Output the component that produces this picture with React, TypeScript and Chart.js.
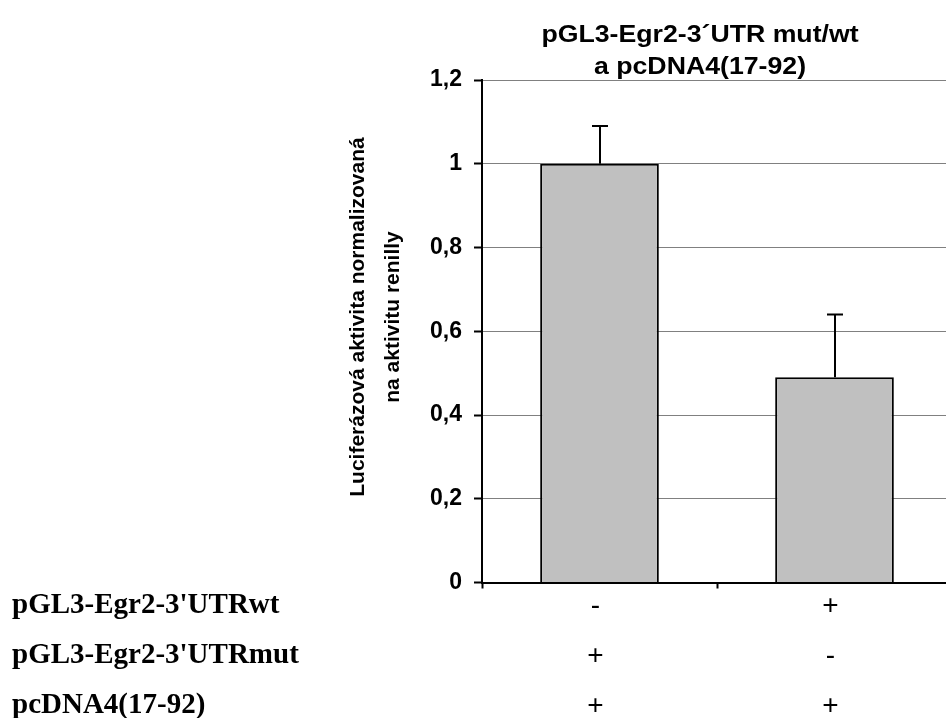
import React, { useEffect, useRef } from 'react';
import { Chart, registerables } from 'chart.js';

Chart.register(...registerables);

// ---- data ----
const rowLabels = ["pGL3-Egr2-3'UTRwt", "pGL3-Egr2-3'UTRmut", 'pcDNA4(17-92)'];
const wtRow = ['-', '+'];
const mutRow = ['+', '-'];
const pcdnaRow = ['+', '+'];
const values = [1.0, 0.49];
const errors = [0.09, 0.15];
const yTicks = [0, 0.2, 0.4, 0.6, 0.8, 1, 1.2];
const yTickLabels = ['0', '0,2', '0,4', '0,6', '0,8', '1', '1,2'];
const titleLines = ['pGL3-Egr2-3´UTR mut/wt', 'a pcDNA4(17-92)'];
const yTitleLines = ['Luciferázová aktivita normalizovaná', 'na aktivitu renilly'];

const SANS = '"Liberation Sans", Arial, Helvetica, sans-serif';
const SERIF = '"Liberation Serif", "Times New Roman", serif';

const decor = {
  id: 'decor',
  afterDatasetsDraw(chart: any) {
    const ctx = chart.ctx;
    const ys = chart.scales.y;
    const meta = chart.getDatasetMeta(0);
    ctx.save();
    ctx.strokeStyle = '#000';
    ctx.lineWidth = 2;
    meta.data.forEach((el: any, i: number) => {
      const top = ys.getPixelForValue(values[i] + errors[i]);
      const x = Math.round(el.x);
      ctx.beginPath();
      ctx.moveTo(x, el.y);
      ctx.lineTo(x, top);
      ctx.moveTo(x - 8, top);
      ctx.lineTo(x + 8, top);
      ctx.stroke();
    });
    ctx.restore();
  },
  afterDraw(chart: any) {
    const ctx = chart.ctx;
    const area = chart.chartArea;
    ctx.save();
    ctx.fillStyle = '#000';
    // main title (horizontally stretched like the original)
    ctx.font = `bold 23px ${SANS}`;
    ctx.textAlign = 'center';
    ctx.textBaseline = 'alphabetic';
    titleLines.forEach((t, i) => {
      ctx.save();
      ctx.translate(692, 34 + i * 32);
      ctx.scale(1.16, 1);
      ctx.fillText(t, 0, 0);
      ctx.restore();
    });
    // y axis title
    ctx.font = `bold 21px ${SANS}`;
    ctx.textBaseline = 'middle';
    yTitleLines.forEach((t, i) => {
      ctx.save();
      ctx.translate(350 + i * 35, 309);
      ctx.rotate(-Math.PI / 2);
      ctx.fillText(t, 0, 0);
      ctx.restore();
    });
    // row labels
    ctx.font = `bold 29px ${SERIF}`;
    ctx.textAlign = 'left';
    ctx.textBaseline = 'alphabetic';
    rowLabels.forEach((t, i) => {
      ctx.fillText(t, 4, area.bottom + 30 + i * 50);
    });
    ctx.restore();
  },
};

export default function App() {
  const ref = useRef<HTMLCanvasElement | null>(null);

  useEffect(() => {
    document.documentElement.style.overflow = 'hidden';
    document.body.style.marginRight = '0px';
    const canvas = ref.current;
    if (!canvas) return;
    const labels = values.map((_, i) => [wtRow[i], mutRow[i], pcdnaRow[i]]);
    const chart = new Chart(canvas, {
      type: 'bar',
      data: {
        labels,
        datasets: [
          {
            data: values,
            backgroundColor: '#C0C0C0',
            borderColor: '#000000',
            borderWidth: 2,
            categoryPercentage: 1,
            barPercentage: 0.505,
          },
        ],
      },
      options: {
        responsive: false,
        animation: false,
        devicePixelRatio: 1,
        layout: { padding: { top: 72, right: 2, left: 0, bottom: 0 } },
        plugins: {
          legend: { display: false },
          tooltip: { enabled: false },
          title: { display: false },
        },
        scales: {
          x: {
            type: 'category',
            offset: true,
            afterFit: (scale: any) => {
              scale.height = 135.5;
            },
            grid: {
              display: true,
              drawOnChartArea: false,
              drawTicks: true,
              tickLength: 6,
              tickColor: '#000',
              tickWidth: 2,
              offset: true,
            },
            border: { display: true, color: '#000', width: 2 },
            ticks: {
              color: '#000',
              font: { family: SANS, size: 28, lineHeight: '50px' as any },
              padding: -7,
              labelOffset: -4,
              maxRotation: 0,
              autoSkip: false,
            },
          },
          y: {
            min: 0,
            max: 1.2,
            afterFit: (scale: any) => {
              scale.width = 474;
            },
            afterBuildTicks: (scale: any) => {
              scale.ticks = yTicks.map((v) => ({ value: v }));
            },
            grid: {
              color: '#808080',
              lineWidth: 1,
              drawTicks: true,
              tickLength: 8,
              tickColor: '#000',
              tickWidth: 2,
            },
            border: { display: true, color: '#000', width: 2 },
            ticks: {
              color: '#000',
              padding: 12,
              font: { family: SANS, size: 23, weight: 'bold' },
              callback: (v: any) => {
                const i = yTicks.findIndex((t) => Math.abs(t - Number(v)) < 1e-6);
                return i >= 0 ? yTickLabels[i] : '';
              },
            },
          },
        },
      },
      plugins: [decor],
    } as any);
    return () => chart.destroy();
  }, []);

  return (
    <div style={{ width: 938, height: 710, overflow: 'hidden' }}>
      <canvas ref={ref} width={946} height={710} style={{ display: 'block' }} />
    </div>
  );
}
